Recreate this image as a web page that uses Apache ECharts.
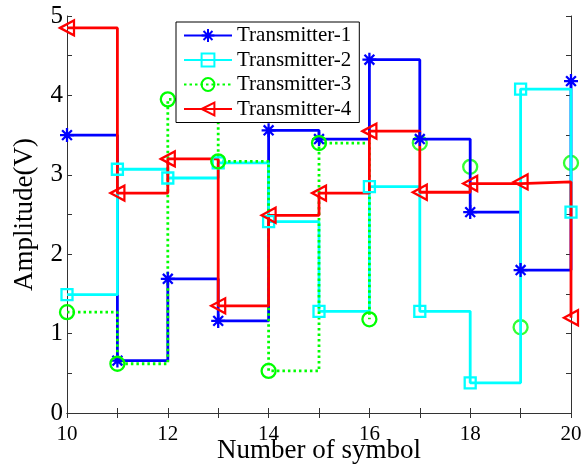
<!DOCTYPE html>
<html>
<head>
<meta charset="utf-8">
<script src="https://cdn.jsdelivr.net/npm/echarts@6/dist/echarts.min.js"></script>
<style>
html,body{margin:0;padding:0;background:#fff;}
#c{width:582px;height:470px;}
</style>
</head>
<body>
<div id="c"></div>
<script>
// ---- data ----
const symbols = [10, 11, 12, 13, 14, 15, 16, 17, 18, 19, 20];
const transmitter1 = [3.50, 0.66, 1.69, 1.16, 3.56, 3.45, 4.45, 3.45, 2.53, 1.80, 4.18];
const transmitter2 = [1.49, 3.07, 2.96, 3.15, 2.41, 1.28, 2.85, 1.28, 0.38, 4.08, 2.53];
const transmitter3 = [1.27, 0.62, 3.95, 3.17, 0.53, 3.40, 1.18, 3.40, 3.10, 1.08, 3.15];
const transmitter4 = [4.85, 2.77, 3.20, 1.35, 2.49, 2.77, 3.55, 2.78, 2.89, 2.91, 1.20];
// Transmitter-3's stair line stops at symbol 16 in the reference; later points are markers only
const t3LineEnd = 16;
const seriesNames = ['Transmitter-1', 'Transmitter-2', 'Transmitter-3', 'Transmitter-4'];
const xTicksLabelled = [10, 12, 14, 16, 18, 20];
const yTicksLabelled = [0, 1, 2, 3, 4, 5];

const pairs = (xs, ys) => xs.map((x, i) => [x, ys[i]]);
const FONT = 'Liberation Serif';
const axisColor = '#333';

const asterisk = 'path://M10,0 L10,20 M0,10 L20,10 M3,3 L17,17 M3,17 L17,3';
const triLeft = 'path://M0,10 L17,0 L17,20 Z';

function stairSeries(name, data, color, symbol, size, lineType) {
  return {
    name: name,
    type: 'line',
    step: 'end',
    data: data,
    symbol: symbol,
    symbolSize: size,
    showAllSymbol: true,
    lineStyle: {color: color, width: 2.8, type: lineType || 'solid'},
    itemStyle: {color: 'rgba(255,255,255,0)', borderColor: color, borderWidth: 2.3},
    emphasis: {disabled: true},
    animation: false
  };
}

const t3Pairs = pairs(symbols, transmitter3);
const t3Line = t3Pairs.filter(p => p[0] <= t3LineEnd);
const t3Markers = t3Pairs.filter(p => p[0] > t3LineEnd);

const chart = echarts.init(document.getElementById('c'), null, {renderer: 'canvas'});
chart.setOption({
  backgroundColor: '#fff',
  animation: false,
  grid: {left: 67, right: 11, top: 16, bottom: 57, containLabel: false, outerBoundsMode: 'none'},
  legend: {
    data: seriesNames,
    orient: 'vertical',
    left: 176, top: 22,
    backgroundColor: '#fff',
    borderColor: '#000', borderWidth: 1, borderRadius: 0,
    padding: [3, 8, 3, 7],
    itemWidth: 48, itemHeight: 16, itemGap: 3.5,
    textStyle: {fontFamily: FONT, fontSize: 21, lineHeight: 18, color: '#000'}
  },
  xAxis: [{
    type: 'value', min: 10, max: 20, interval: 1, position: 'bottom',
    name: 'Number of symbol', nameLocation: 'middle', nameGap: 24, nameMoveOverlap: false,
    nameTextStyle: {fontFamily: FONT, fontSize: 27, color: '#000'},
    axisLine: {lineStyle: {color: axisColor, width: 1}},
    axisTick: {inside: true, length: 5, lineStyle: {color: axisColor}},
    axisLabel: {fontFamily: FONT, fontSize: 21, color: '#000', margin: 11,
      formatter: v => xTicksLabelled.includes(v) ? String(v) : ''},
    splitLine: {show: false}
  }, {
    type: 'value', min: 10, max: 20, interval: 1, position: 'top',
    axisLine: {lineStyle: {color: axisColor, width: 1}},
    axisTick: {inside: true, length: 5, lineStyle: {color: axisColor}},
    axisLabel: {show: false}, splitLine: {show: false}
  }],
  yAxis: [{
    type: 'value', min: 0, max: 5, interval: 0.5, position: 'left',
    name: 'Amplitude(V)', nameLocation: 'middle', nameGap: 29, nameMoveOverlap: false,
    nameTextStyle: {fontFamily: FONT, fontSize: 27, color: '#000'},
    axisLine: {show: true, lineStyle: {color: axisColor, width: 1}},
    axisTick: {show: true, inside: true, length: 5, lineStyle: {color: axisColor}},
    axisLabel: {fontFamily: FONT, fontSize: 25, color: '#000', margin: 4,
      formatter: v => yTicksLabelled.includes(v) ? String(v) : ''},
    splitLine: {show: false}
  }, {
    type: 'value', min: 0, max: 5, interval: 0.5, position: 'right',
    axisLine: {show: true, lineStyle: {color: axisColor, width: 1}},
    axisTick: {show: true, inside: true, length: 5, lineStyle: {color: axisColor}},
    axisLabel: {show: false}, splitLine: {show: false}
  }],
  series: [
    stairSeries(seriesNames[0], pairs(symbols, transmitter1), '#0000ff', asterisk, 14),
    stairSeries(seriesNames[1], pairs(symbols, transmitter2), '#00ffff', 'rect', 11),
    stairSeries(seriesNames[2], t3Line, '#00ff00', 'circle', 14, [2.5, 3]),
    {
      name: 'Transmitter-3 (markers)', type: 'scatter', data: t3Markers,
      symbol: 'circle', symbolSize: 14,
      itemStyle: {color: 'rgba(255,255,255,0)', borderColor: '#00ff00', borderWidth: 2.3},
      emphasis: {disabled: true}, animation: false
    },
    stairSeries(seriesNames[3], pairs(symbols, transmitter4), '#ff0000', triLeft, [14, 15])
  ]
});
</script>
</body>
</html>
